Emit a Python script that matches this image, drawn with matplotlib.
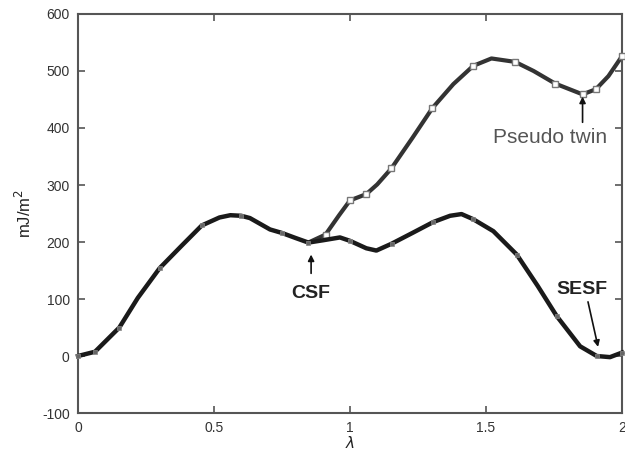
import matplotlib
matplotlib.use("Agg")
import matplotlib.pyplot as plt

plt.rcParams['font.family'] = ['Liberation Sans', 'DejaVu Sans']
plt.rcParams['axes.unicode_minus'] = False

# lower path (CSF -> SESF)
lower_x = [0, 0.0625, 0.152, 0.22, 0.30, 0.38, 0.455, 0.52, 0.56, 0.60, 0.632, 0.706,
           0.749, 0.80, 0.847, 0.90, 0.963, 1.0, 1.06, 1.097, 1.153, 1.23, 1.306, 1.368,
           1.41, 1.453, 1.527, 1.613, 1.69, 1.76, 1.846, 1.907, 1.956, 2.0]
lower_y = [0, 7.5, 50, 102, 154, 193, 229, 243, 247, 246, 242, 222,
           216, 207, 199, 203, 208, 202, 189, 185, 197, 216, 235, 246,
           249, 240, 219, 178, 123, 70, 17, 0, -2, 6]
lower_mx = [0, 0.0625, 0.152, 0.30, 0.455, 0.60, 0.749, 0.847, 1.0, 1.153, 1.306,
            1.453, 1.613, 1.76, 1.907, 2.0]
lower_my = [0, 7.5, 50, 154, 229, 246, 216, 199, 202, 197, 235,
            240, 178, 70, 0, 6]

# upper path (pseudo twin)
upper_x = [0.847, 0.91, 0.96, 1.0, 1.06, 1.10, 1.152, 1.23, 1.303, 1.38, 1.453,
           1.52, 1.607, 1.675, 1.754, 1.855, 1.904, 1.95, 2.0]
upper_y = [199, 213, 247, 273, 284, 301, 329, 383, 435, 477, 509,
           522, 516, 500, 478, 459, 468, 491, 526]
upper_mx = [0.91, 1.0, 1.06, 1.152, 1.303, 1.453, 1.607, 1.754, 1.855, 1.904, 2.0]
upper_my = [213, 273, 284, 329, 435, 509, 516, 478, 459, 468, 526]

fig = plt.figure(figsize=(6.25, 4.5), dpi=100)
ax = fig.add_axes([0.1248, 0.0822, 0.8704, 0.8867])

ax.plot(upper_x, upper_y, color='#333333', lw=3.0, zorder=2, clip_on=False,
        solid_joinstyle='round')
ax.plot(upper_mx, upper_my, ls='none', marker='s', ms=4.5, mfc='white', mec='#777777',
        mew=1.0, zorder=3, clip_on=False)
ax.plot(lower_x, lower_y, color='#1a1a1a', lw=3.2, zorder=4, clip_on=False,
        solid_joinstyle='round')
ax.plot(lower_mx, lower_my, ls='none', marker='s', ms=3.0, mfc='#666666', mec='#888888',
        mew=0.5, zorder=5, clip_on=False)

ax.set_xlim(0, 2)
ax.set_ylim(-100, 600)
ax.set_xticks([0, 0.5, 1, 1.5, 2])
ax.set_xticklabels(['0', '0.5', '1', '1.5', '2'])
ax.set_yticks([-100, 0, 100, 200, 300, 400, 500, 600])
ax.tick_params(direction='in', top=True, right=True, length=5, width=1.2,
               labelsize=10, labelcolor='#333333', color='#555555', pad=6)
for s in ax.spines.values():
    s.set_color('#555555')
    s.set_linewidth(1.5)

ax.set_xlabel(r'$\lambda$', fontsize=11, labelpad=0, color='#222222')
ax.set_ylabel('mJ/m$^2$', fontsize=12, labelpad=6, color='#222222')

arrow = dict(arrowstyle='-|>', color='#111111', lw=1.2, mutation_scale=9,
             shrinkA=0, shrinkB=0)
ax.annotate('', xy=(0.857, 178), xytext=(0.857, 145), arrowprops=arrow)
ax.text(0.857, 110, 'CSF', fontsize=14, fontweight='bold', ha='center', va='center',
        color='#222222')
ax.annotate('', xy=(1.912, 16), xytext=(1.875, 95), arrowprops=arrow)
ax.text(1.852, 116, 'SESF', fontsize=14, fontweight='bold', ha='center', va='center',
        color='#222222')
ax.annotate('', xy=(1.855, 455), xytext=(1.855, 410), arrowprops=arrow)
ax.text(1.735, 383, 'Pseudo twin', fontsize=15, ha='center', va='center',
        color='#555555')

fig.savefig('out.png', dpi=100)
